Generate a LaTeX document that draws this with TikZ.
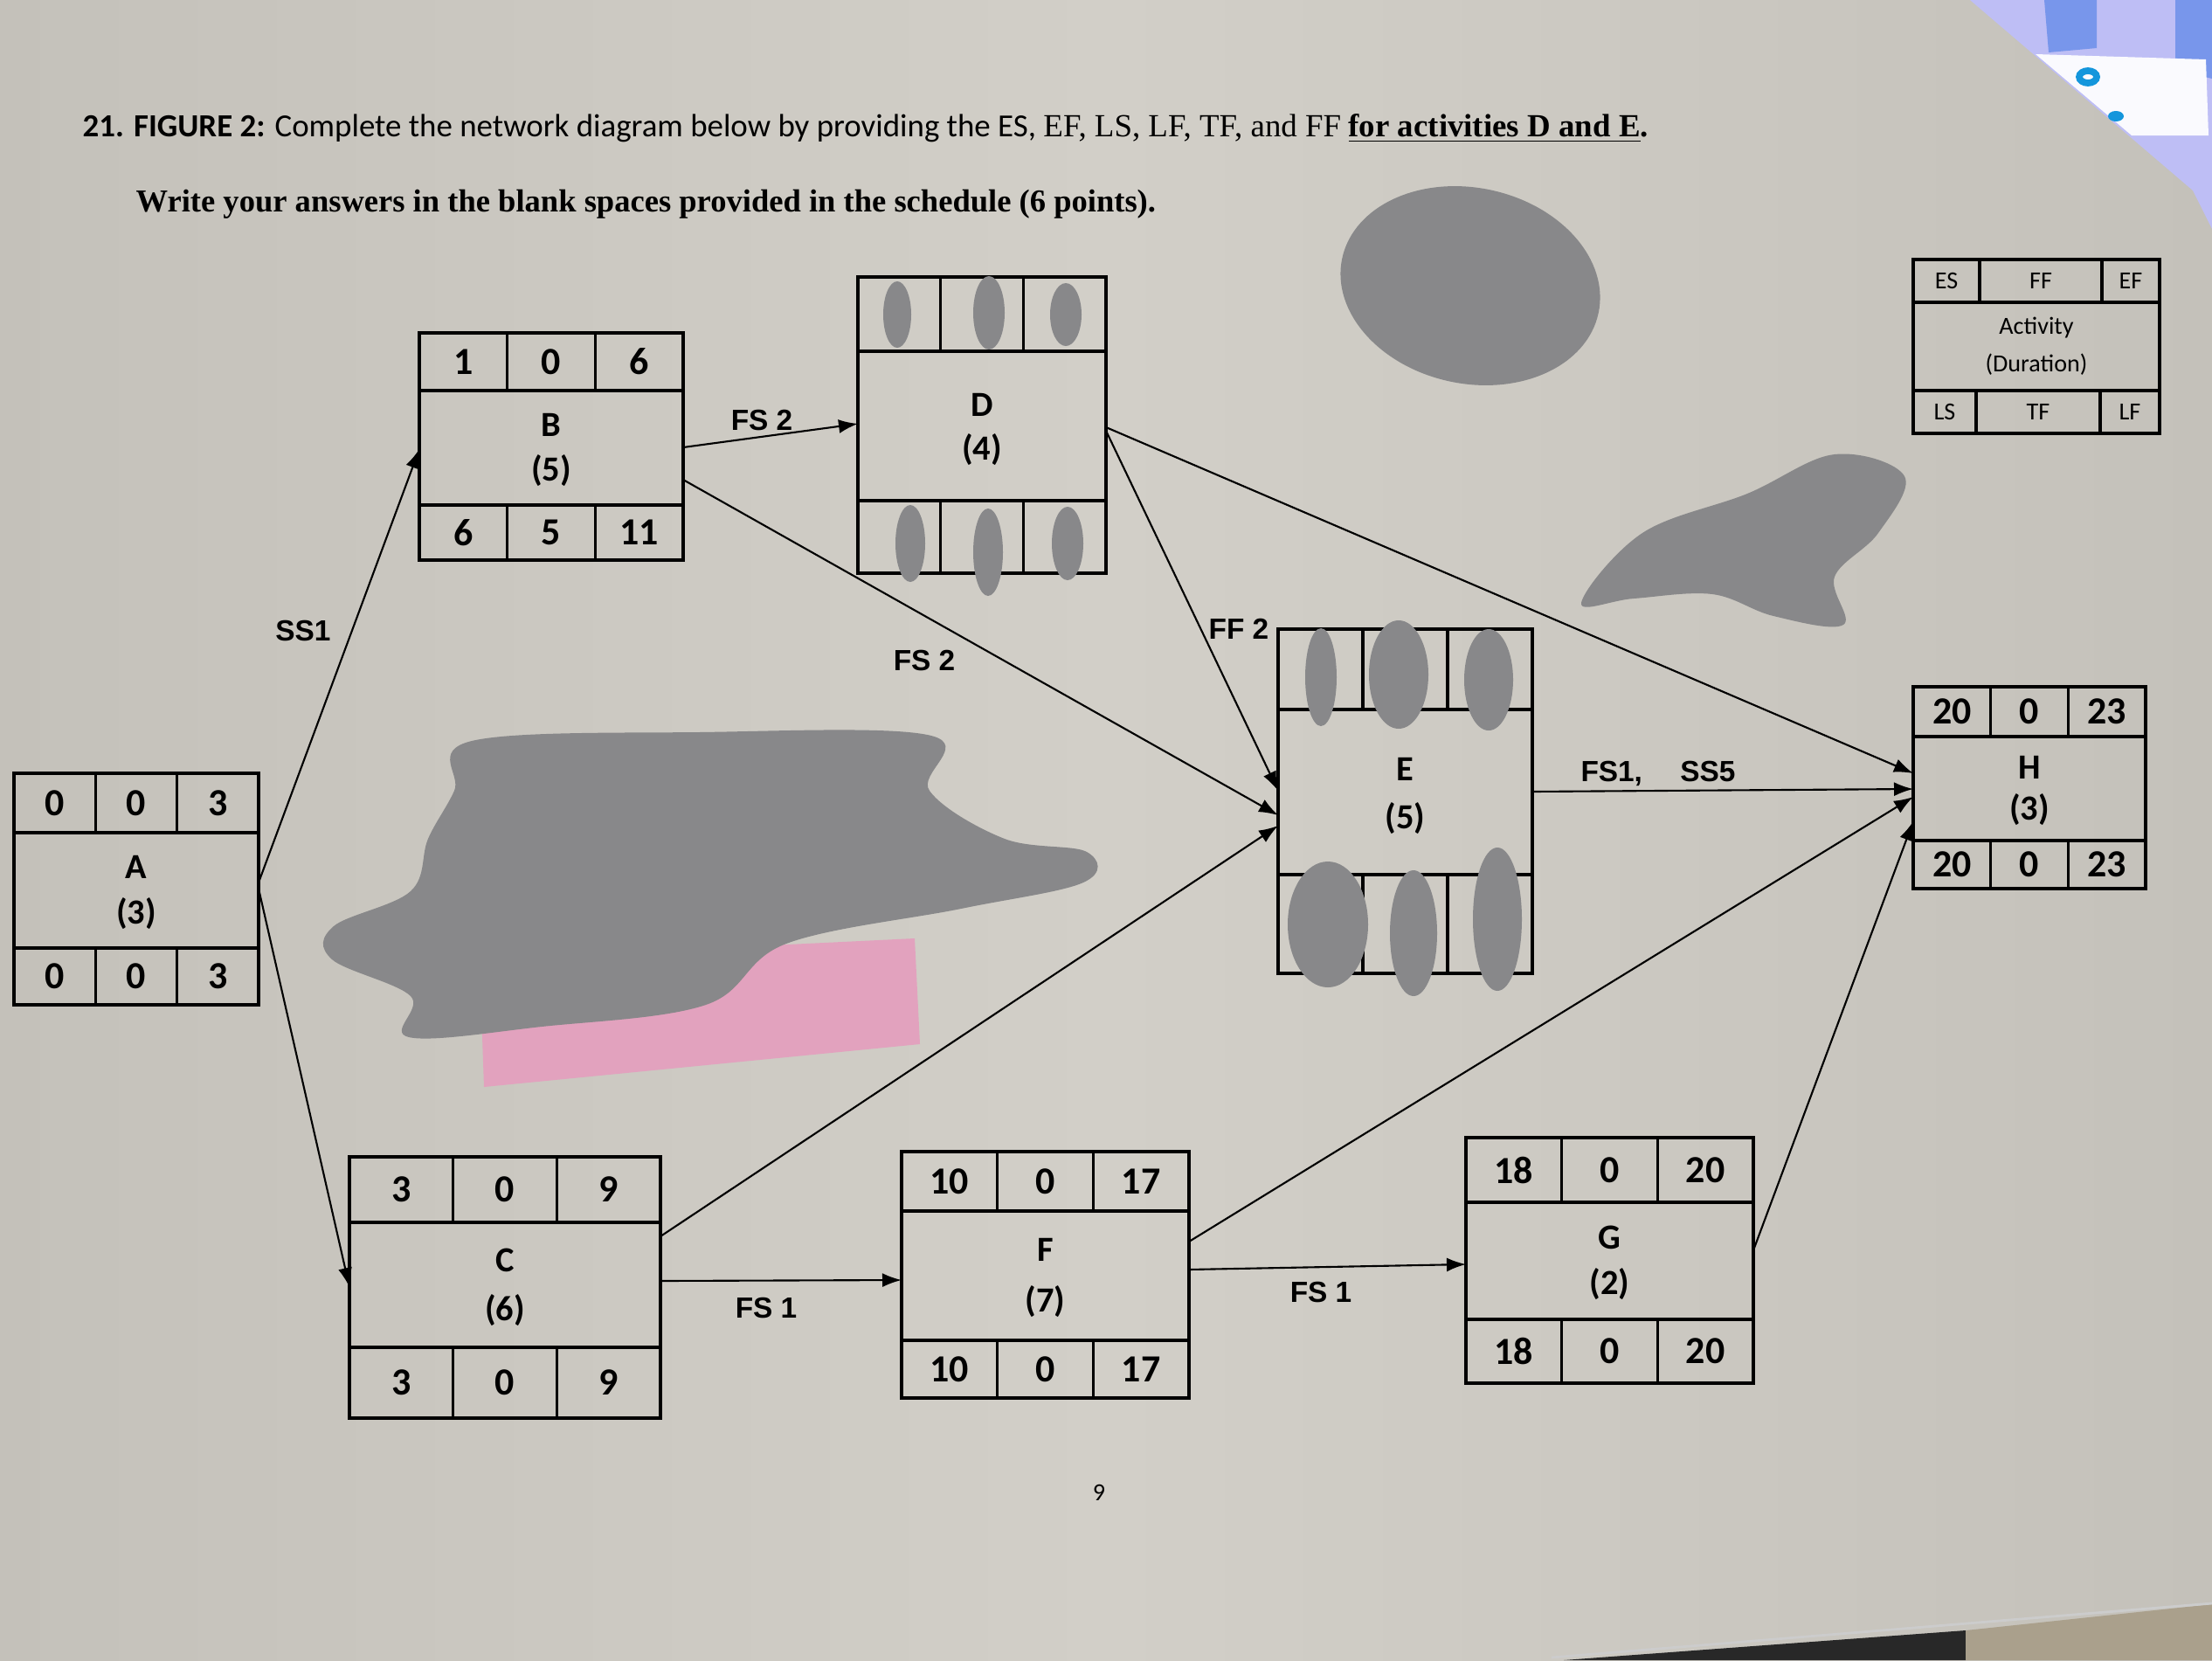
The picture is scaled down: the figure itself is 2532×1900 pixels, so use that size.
\documentclass[tikz,border=0pt]{standalone}
\usepackage{fontspec}
\setmainfont{Carlito}
\newfontfamily\arialf{Liberation Sans}
\newfontfamily\timesf{Liberation Serif}
\usetikzlibrary{arrows.meta,calc}
\definecolor{paperlight}{RGB}{210,207,200}
\definecolor{paperdark}{RGB}{196,193,186}
\definecolor{edgecol}{RGB}{40,40,40}
\definecolor{scrib}{RGB}{136,136,138}
\definecolor{pinknote}{RGB}{226,162,190}
\definecolor{kbblue}{RGB}{120,150,235}
\definecolor{kblav}{RGB}{190,190,245}
\definecolor{logoblue}{RGB}{20,150,220}
\tikzset{
  frame/.style={draw=black, line width=0.9pt},
  boxnode/.style={frame, inner sep=0pt, outer sep=0pt, anchor=north west},
  link/.style={draw=black, line width=0.6pt, -{Latex[length=2.2mm,width=1.6mm]}},
  num/.style={font=\fontsize{12.5}{14}\selectfont\bfseries, inner sep=0pt},
  act/.style={font=\fontsize{11.5}{13}\selectfont\bfseries, inner sep=0pt},
  lbl/.style={font=\arialf\fontsize{9.5}{11}\selectfont\bfseries, inner sep=0pt},
  leg/.style={font=\fontsize{8}{10}\selectfont, inner sep=0pt},
  blob/.style={fill=scrib, draw=none},
}
% name, x, y, width, top row, middle, bottom row
\newcommand\actbox[7]{%
  \node[boxnode, minimum width=#4*0.1mm, minimum height=(#5+#6+#7)*0.1mm] (#1) at (#2,#3) {};
  \draw[frame] (#2,#3+#5) -- (#2+#4,#3+#5) (#2,#3+#5+#6) -- (#2+#4,#3+#5+#6)
    (#2+#4/3,#3) -- (#2+#4/3,#3+#5) (#2+2*#4/3,#3) -- (#2+2*#4/3,#3+#5)
    (#2+#4/3,#3+#5+#6) -- (#2+#4/3,#3+#5+#6+#7) (#2+2*#4/3,#3+#5+#6) -- (#2+2*#4/3,#3+#5+#6+#7);
  \coordinate (#1-tl) at (#2+#4/6,#3+#5/2);
  \coordinate (#1-tm) at (#2+#4/2,#3+#5/2);
  \coordinate (#1-tr) at (#2+5*#4/6,#3+#5/2);
  \coordinate (#1-nm) at (#2+#4/2,#3+#5+0.3*#6);
  \coordinate (#1-dm) at (#2+#4/2,#3+#5+0.7*#6);
  \coordinate (#1-n2) at (#2+#4/2,#3+#5+0.36*#6);
  \coordinate (#1-d2) at (#2+#4/2,#3+#5+0.66*#6);
  \coordinate (#1-bl) at (#2+#4/6,#3+#5+#6+#7/2);
  \coordinate (#1-bm) at (#2+#4/2,#3+#5+#6+#7/2);
  \coordinate (#1-br) at (#2+5*#4/6,#3+#5+#6+#7/2);
}
\newcommand\cells[9]{%
  \node[num] (#1-a) at (#1-tl) {#2};
  \node[num] (#1-b) at (#1-tm) {#3};
  \node[num] (#1-c) at (#1-tr) {#4};
  \node[act] (#1-n) at (#1-nm) {#5};
  \node[act] (#1-d) at (#1-dm) {#6};
  \node[num] (#1-e) at (#1-bl) {#7};
  \node[num] (#1-f) at (#1-bm) {#8};
  \node[num] (#1-g) at (#1-br) {#9};
}
\begin{document}
\begin{tikzpicture}[x=0.1mm,y=-0.1mm]
\useasboundingbox (0,0) rectangle (2532,1900);
\shade[left color=paperdark, right color=paperdark, middle color=paperlight] (0,0) rectangle (2532,1900);

% keyboard visible in the top right corner
\fill[kblav] (2255,0) -- (2532,0) -- (2532,262) -- (2510,218) -- cycle;
\fill[kbblue] (2340,0) -- (2400,0) -- (2400,55) -- (2345,60) -- cycle;
\fill[kbblue] (2490,0) -- (2532,0) -- (2532,90) -- (2490,80) -- cycle;
\fill[white!92!kblav] (2330,62) -- (2525,68) -- (2528,155) -- (2440,155) -- cycle;
\draw[logoblue, line width=2.2pt] (2390,88) ellipse [x radius=10, y radius=7];
\fill[logoblue] (2422,133) ellipse [x radius=9, y radius=6];

% paper edge at the bottom right
\fill[edgecol] (1790,1900) -- (2250,1866) -- (2250,1900) -- cycle;
\fill[RGB/.style={}, color={rgb,255:red,170;green,160;blue,140}] (2250,1866) -- (2532,1836) -- (2532,1900) -- (2250,1900) -- cycle;
\draw[white!80!black, line width=0.8pt] (1776,1897) -- (2532,1835);

% title
\node[anchor=base west, inner sep=0pt, font=\fontsize{10.5}{12}\selectfont] (title) at (94,156)
  {\textbf{21. FIGURE 2:} Complete the network diagram below by providing the ES, {\timesf EF, LS, LF, TF, and FF} {\timesf\bfseries\underline{for activities D and E}.}};
\node[anchor=base west, inner sep=0pt, font=\timesf\bfseries\fontsize{10.4}{12}\selectfont] (sub) at (155,242)
  {Write your answers in the blank spaces provided in the schedule (6 points).};

% legend
\node[boxnode, minimum width=282*0.1mm, minimum height=199*0.1mm] (K) at (2190,297) {};
\draw[frame] (2190,346) -- (2472,346) (2190,447) -- (2472,447)
  (2266,297) -- (2266,346) (2406,297) -- (2406,346)
  (2262,447) -- (2262,496) (2404,447) -- (2404,496);
\node[leg] (kES) at (2228,321) {ES};
\node[leg] (kFF) at (2336,321) {FF};
\node[leg] (kEF) at (2439,321) {EF};
\node[leg] (kAct) at (2331,375) {Activity};
\node[leg] (kDur) at (2331,417) {(Duration)};
\node[leg] (kLS) at (2226,471) {LS};
\node[leg] (kTF) at (2333,471) {TF};
\node[leg] (kLF) at (2438,471) {LF};

% activity boxes
\actbox{A}{16}{885}{280}{68}{132}{65}
\cells{A}{0}{0}{3}{A}{(3)}{0}{0}{3}
\actbox{B}{480}{381}{302}{66}{131}{63}
\cells{B}{1}{0}{6}{B}{(5)}{6}{5}{11}
\actbox{D}{982}{317}{284}{85}{171}{83}
\node[act] (D-n) at (D-n2) {D};
\node[act] (D-d) at (D-d2) {(4)};
\actbox{E}{1463}{720}{291}{92}{189}{113}
\node[act] (E-n) at (E-n2) {E};
\node[act] (E-d) at (E-d2) {(5)};
\actbox{H}{2190}{786}{266}{57}{119}{55}
\cells{H}{20}{0}{23}{H}{(3)}{20}{0}{23}
\actbox{C}{400}{1324}{356}{75}{143}{81}
\cells{C}{3}{0}{9}{C}{(6)}{3}{0}{9}
\actbox{F}{1032}{1318}{329}{68}{148}{66}
\cells{F}{10}{0}{17}{F}{(7)}{10}{0}{17}
\actbox{G}{1678}{1302}{329}{74}{134}{73}
\cells{G}{18}{0}{20}{G}{(2)}{18}{0}{20}

% connectors
\draw[link] ($(A.north east)+(0,125)$) -- ($(B.north west)+(0,133)$);
\draw[link] ($(A.north east)+(0,132)$) -- ($(C.north west)+(0,149)$);
\draw[link] ($(B.north east)+(0,131)$) -- ($(D.north west)+(0,168)$);
\draw[link] ($(B.north east)+(0,168)$) -- ($(E.north west)+(0,213)$);
\draw[link] ($(D.north east)+(0,176)$) -- ($(E.north west)+(0,185)$);
\draw[link] ($(D.north east)+(0,172)$) -- ($(H.north west)+(0,99)$);
\draw[link] ($(C.north east)+(0,91)$) -- ($(E.north west)+(0,225)$);
\draw[link] ($(C.north east)+(0,142)$) -- ($(F.north west)+(0,147)$);
\draw[link] ($(E.north east)+(0,186)$) -- ($(H.north west)+(0,117)$);
\draw[link] ($(F.north east)+(0,103)$) -- ($(H.north west)+(0,126)$);
\draw[link] ($(F.north east)+(0,135)$) -- ($(G.north west)+(0,145)$);
\draw[link] ($(G.north east)+(0,129)$) -- ($(H.north west)+(0,154)$);

% connector labels
\node[lbl] (lSS1) at (347,722) {SS1};
\node[lbl] (lBD) at (872,481) {FS 2};
\node[lbl] (lBE) at (1058,756) {FS 2};
\node[lbl] (lDE) at (1418,720) {FF 2};
\node[lbl] (lEH) at (1898,885) {FS1,\hspace{1.3em}SS5};
\node[lbl] (lCF) at (877,1497) {FS 1};
\node[lbl] (lFG) at (1512,1479) {FS 1};

% page number
\node[font=\fontsize{8}{10}\selectfont, inner sep=0pt] (pg) at (1258,1708) {9};

% sticky note and scribbles
\fill[pinknote] (549,1098) -- (1047,1074) -- (1053,1195) -- (554,1244) -- cycle;
\fill[blob] plot[smooth cycle, tension=0.6] coordinates {(540,848) (800,838) (1066,842) (1064,905) (1150,960) (1244,975) (1240,1010) (1100,1040) (900,1080) (808,1150) (620,1175) (468,1187) (470,1140) (380,1098) (382,1060) (470,1020) (490,960) (520,905)};
\fill[blob, rotate around={-12:(1683,327)}] (1683,327) ellipse [x radius=150, y radius=112];
\fill[blob] plot[smooth cycle, tension=0.6] coordinates {(1810,690) (1880,610) (2000,565) (2100,520) (2180,545) (2150,610) (2100,660) (2110,715) (2030,705) (1960,680) (1870,685)};
% blobs over the answer cells of D and E
\fill[blob] (1027,360) ellipse [x radius=16, y radius=38];
\fill[blob] (1132,358) ellipse [x radius=18, y radius=42];
\fill[blob] (1220,360) ellipse [x radius=18, y radius=36];
\fill[blob] (1042,622) ellipse [x radius=17, y radius=44];
\fill[blob] (1131,632) ellipse [x radius=17, y radius=50];
\fill[blob] (1222,622) ellipse [x radius=18, y radius=42];
\fill[blob] (1512,775) ellipse [x radius=18, y radius=56];
\fill[blob] (1601,772) ellipse [x radius=34, y radius=62];
\fill[blob] (1704,778) ellipse [x radius=28, y radius=58];
\fill[blob] (1520,1058) ellipse [x radius=46, y radius=72];
\fill[blob] (1618,1068) ellipse [x radius=27, y radius=72];
\fill[blob] (1714,1052) ellipse [x radius=28, y radius=82];
\end{tikzpicture}
\end{document}
